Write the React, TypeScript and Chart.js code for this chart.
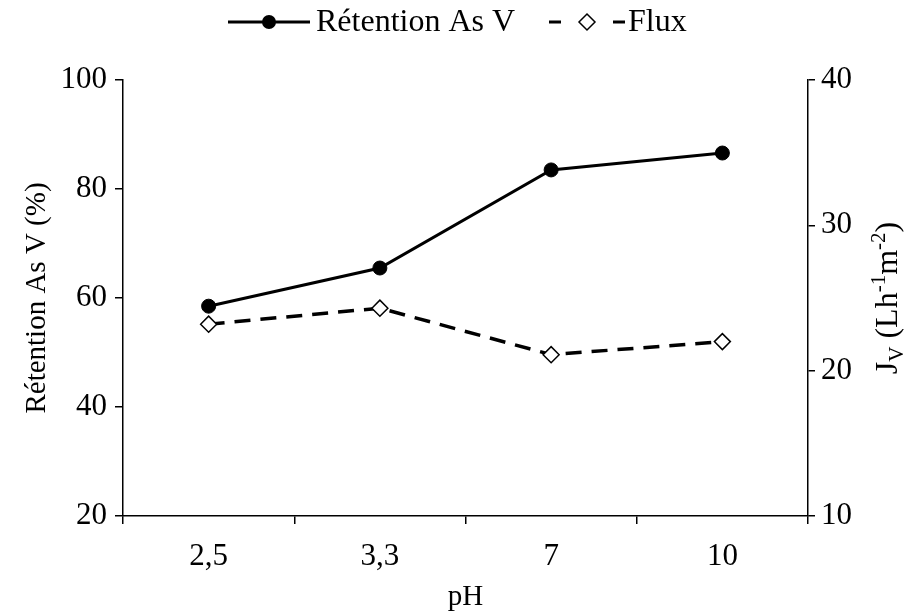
import React, { useEffect, useRef } from "react";
import { Chart, registerables } from "chart.js";

Chart.register(...registerables);

const categories = ["2,5", "3,3", "7", "10"];
const retention = [58.5, 65.5, 83.5, 86.6];
const flux = [23.2, 24.3, 21.1, 22.0];
const leftTicks = [20, 40, 60, 80, 100];
const rightTicks = [10, 20, 30, 40];

const FONT = "'Liberation Serif', 'Times New Roman', serif";
const TICK_FS = 31;
const LEG_FS = 32;
const TITLE_FS = 29;
const RTITLE_FS = 32;

const customPlugin = {
  id: "custom",
  afterDraw(chart: any) {
    const ctx = chart.ctx;
    const area = chart.chartArea;
    ctx.save();
    ctx.fillStyle = "#000";
    ctx.strokeStyle = "#000";
    ctx.font = `${TITLE_FS}px ${FONT}`;
    ctx.textBaseline = "middle";

    // Left title
    ctx.save();
    ctx.translate(37, (area.top + area.bottom) / 2);
    ctx.rotate(-Math.PI / 2);
    ctx.textAlign = "center";
    ctx.fillText("Rétention As V (%)", 0, 0);
    ctx.restore();

    // x title
    ctx.textAlign = "center";
    ctx.fillText("pH", (area.left + area.right) / 2, 597);

    // Right title with sub/superscripts
    const parts: [string, number][] = [
      ["J", 0],
      ["V", 1],
      [" (Lh", 0],
      ["-1", -1],
      ["m", 0],
      ["-2", -1],
      [")", 0],
    ];
    const small = Math.round(RTITLE_FS * 0.66);
    let total = 0;
    for (const [t, k] of parts) {
      ctx.font = `${k === 0 ? RTITLE_FS : small}px ${FONT}`;
      total += ctx.measureText(t).width;
    }
    ctx.save();
    ctx.translate(887, (area.top + area.bottom) / 2);
    ctx.rotate(-Math.PI / 2);
    ctx.textAlign = "left";
    ctx.textBaseline = "alphabetic";
    let x = -total / 2;
    const base = 10;
    for (const [t, k] of parts) {
      ctx.font = `${k === 0 ? RTITLE_FS : small}px ${FONT}`;
      const dy = k === 1 ? 6 : k === -1 ? -12 : 0;
      ctx.fillText(t, x, base + dy);
      x += ctx.measureText(t).width;
    }
    ctx.restore();

    // Legend
    ctx.font = `${LEG_FS}px ${FONT}`;
    ctx.textAlign = "left";
    ctx.textBaseline = "middle";
    const ly = 22;
    ctx.lineWidth = 3;
    ctx.setLineDash([]);
    ctx.beginPath();
    ctx.moveTo(228, ly);
    ctx.lineTo(310, ly);
    ctx.stroke();
    ctx.beginPath();
    ctx.arc(269, ly, 7, 0, Math.PI * 2);
    ctx.fill();
    ctx.fillText("Rétention As V", 316, ly + 1);

    ctx.beginPath();
    ctx.moveTo(549, ly);
    ctx.lineTo(561, ly);
    ctx.moveTo(613, ly);
    ctx.lineTo(625, ly);
    ctx.stroke();
    ctx.lineWidth = 1.5;
    ctx.beginPath();
    ctx.moveTo(587, ly - 8);
    ctx.lineTo(595, ly);
    ctx.lineTo(587, ly + 8);
    ctx.lineTo(579, ly);
    ctx.closePath();
    ctx.fillStyle = "#fff";
    ctx.fill();
    ctx.stroke();
    ctx.fillStyle = "#000";
    ctx.fillText("Flux", 628, ly + 1);

    ctx.restore();
  },
};

export default function App() {
  const ref = useRef<HTMLCanvasElement>(null);
  useEffect(() => {
    if (!ref.current) return;
    const chart = new Chart(ref.current, {
      type: "line",
      data: {
        labels: categories,
        datasets: [
          {
            label: "Rétention As V",
            data: retention,
            yAxisID: "y",
            borderColor: "#000",
            backgroundColor: "#000",
            borderWidth: 3,
            pointStyle: "circle",
            pointRadius: 7,
            pointBackgroundColor: "#000",
            pointBorderColor: "#000",
            pointBorderWidth: 1,
            tension: 0,
          },
          {
            label: "Flux",
            data: flux,
            yAxisID: "y1",
            borderColor: "#000",
            backgroundColor: "#fff",
            borderWidth: 3.5,
            borderDash: [16, 10],
            pointStyle: "rectRot",
            pointRadius: 8,
            pointBackgroundColor: "#fff",
            pointBorderColor: "#000",
            pointBorderWidth: 1.5,
            tension: 0,
          },
        ],
      },
      options: {
        animation: false,
        responsive: true,
        maintainAspectRatio: false,
        layout: { padding: { top: 80, left: 0, right: 0, bottom: 0 } },
        plugins: { legend: { display: false }, tooltip: { enabled: false } },
        scales: {
          x: {
            type: "category",
            offset: true,
            grid: {
              offset: true,
              drawOnChartArea: false,
              drawTicks: true,
              tickLength: 8,
              color: "#000",
              lineWidth: 1.5,
            },
            border: { color: "#000", width: 1.5 },
            ticks: { color: "#000", font: { family: FONT, size: TICK_FS }, padding: 14 },
            afterFit: (s: any) => {
              s.height = 95;
            },
          },
          y: {
            position: "left",
            min: 20,
            max: 100,
            afterBuildTicks: (s: any) => {
              s.ticks = leftTicks.map((v) => ({ value: v }));
            },
            grid: { drawOnChartArea: false, tickLength: 8, color: "#000", lineWidth: 1.5 },
            border: { color: "#000", width: 1.5 },
            ticks: { color: "#000", font: { family: FONT, size: TICK_FS }, padding: 8 },
            afterFit: (s: any) => {
              s.width = 123;
            },
          },
          y1: {
            position: "right",
            min: 10,
            max: 40,
            afterBuildTicks: (s: any) => {
              s.ticks = rightTicks.map((v) => ({ value: v }));
            },
            grid: { drawOnChartArea: false, tickLength: 7, color: "#000", lineWidth: 1.5 },
            border: { color: "#000", width: 1.5 },
            ticks: { color: "#000", font: { family: FONT, size: TICK_FS }, padding: 6 },
            afterFit: (s: any) => {
              s.width = 104;
            },
          },
        },
      },
      plugins: [customPlugin],
    });
    return () => chart.destroy();
  }, []);
  return (
    <div style={{ position: "fixed", left: 0, top: 0, width: 912, height: 611, background: "#fff" }}>
      <canvas ref={ref} />
    </div>
  );
}
